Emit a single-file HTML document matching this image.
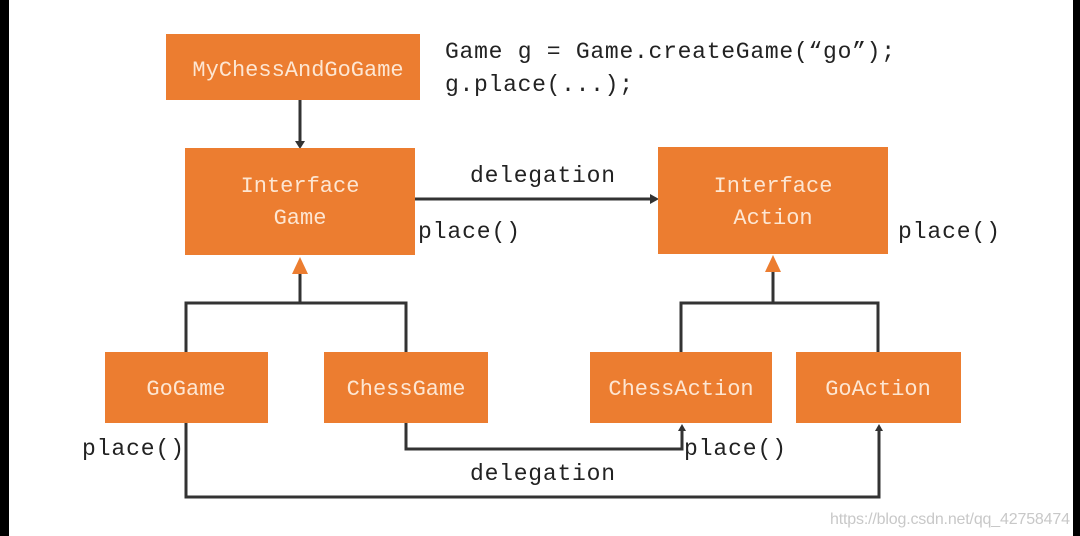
<!DOCTYPE html>
<html><head><meta charset="utf-8"><style>
html,body{margin:0;padding:0;background:#fff;}
svg{display:block;}
.b{fill:#ec7d30;}
.w{fill:#fde6d2;font-family:"Liberation Mono",monospace;font-size:22px;text-anchor:middle;}
.t{fill:#222;font-family:"Liberation Mono",monospace;font-size:23px;}
.l{stroke:#333;stroke-width:3;fill:none;}
</style></head><body>
<svg width="1080" height="536" viewBox="0 0 1080 536" xmlns="http://www.w3.org/2000/svg">
<rect x="0" y="0" width="1080" height="536" fill="#fff"/>
<rect x="0" y="0" width="9" height="536" fill="#000"/>
<rect x="1073" y="0" width="7" height="536" fill="#000"/>
<!-- connectors -->
<path class="l" d="M300 100 V143"/><polygon points="295,141 305,141 300,149" fill="#333"/>
<path class="l" d="M415 199 H652"/><polygon points="650,194 650,204 659,199" fill="#333"/>
<path class="l" d="M300 303 V272 M186 352 V303 H406 V352"/>
<polygon points="300,257 292,274 308,274" fill="#ec7d30"/>
<path class="l" d="M773 303 V271 M681 352 V303 H878 V352"/>
<polygon points="773,255 765,272 781,272" fill="#ec7d30"/>
<path class="l" d="M406 423 V449 H682 V429"/><polygon points="678,431 686,431 682,424" fill="#333"/>
<path class="l" d="M186 423 V497 H879 V429"/><polygon points="875,431 883,431 879,424" fill="#333"/>
<!-- boxes -->
<rect class="b" x="166" y="34" width="254" height="66"/>
<rect class="b" x="185" y="148" width="230" height="107"/>
<rect class="b" x="658" y="147" width="230" height="107"/>
<rect class="b" x="105" y="352" width="163" height="71"/>
<rect class="b" x="324" y="352" width="164" height="71"/>
<rect class="b" x="590" y="352" width="182" height="71"/>
<rect class="b" x="796" y="352" width="165" height="71"/>
<text class="w" x="298" y="76">MyChessAndGoGame</text>
<text class="w" x="300" y="192">Interface</text>
<text class="w" x="300" y="224">Game</text>
<text class="w" x="773" y="192">Interface</text>
<text class="w" x="773" y="224">Action</text>
<text class="w" x="186" y="395">GoGame</text>
<text class="w" x="406" y="395">ChessGame</text>
<text class="w" x="681" y="395">ChessAction</text>
<text class="w" x="878" y="395">GoAction</text>
<!-- labels -->
<text class="t" x="445" y="58" textLength="450">Game g = Game.createGame(“go”);</text>
<text class="t" x="445" y="91" textLength="188">g.place(...);</text>
<text class="t" x="470" y="182" textLength="145">delegation</text>
<text class="t" x="418" y="238" textLength="102">place()</text>
<text class="t" x="898" y="238" textLength="102">place()</text>
<text class="t" x="82" y="455" textLength="102">place()</text>
<text class="t" x="684" y="455" textLength="102">place()</text>
<text class="t" x="470" y="480" textLength="145">delegation</text>
<text x="830" y="524" fill="#c8c8c8" font-family="Liberation Sans,sans-serif" font-size="16" textLength="240">https://blog.csdn.net/qq_42758474</text>
</svg>
</body></html>
